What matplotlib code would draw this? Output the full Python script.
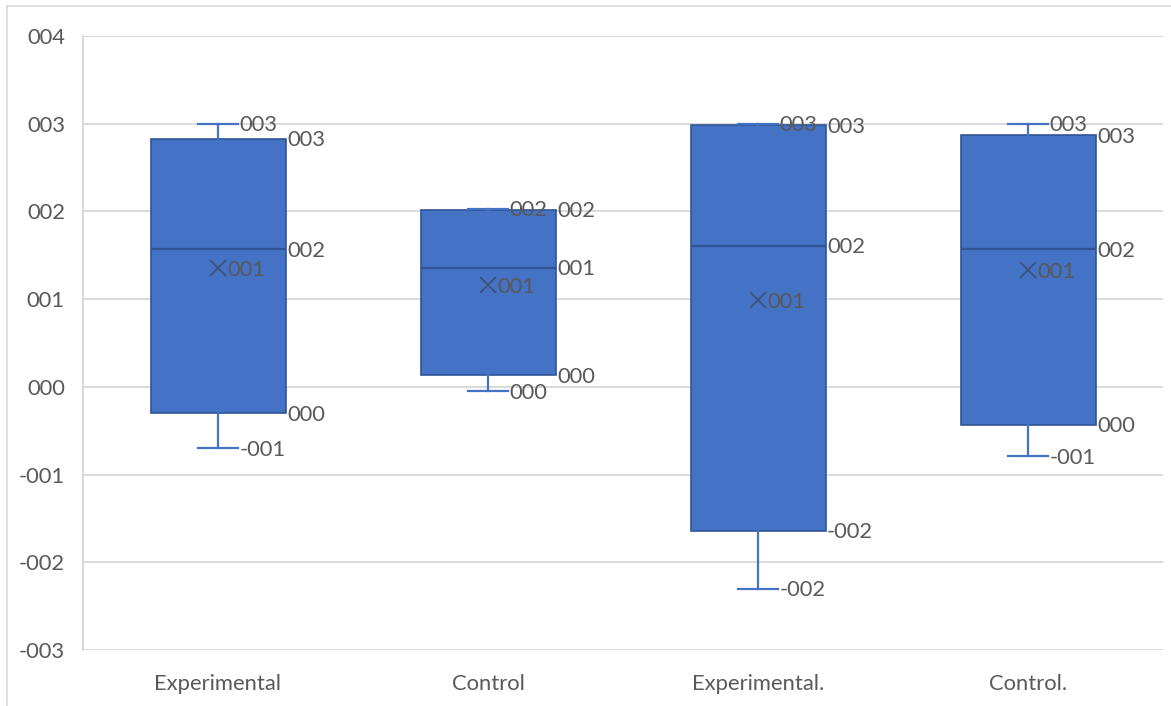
import matplotlib
matplotlib.use("Agg")
import matplotlib.pyplot as plt
from matplotlib.lines import Line2D

# === DATA ===
groups = ["Experimental", "Control", "Experimental.", "Control."]
whisker_low = [-0.70, -0.05, -2.30, -0.79]
q1 = [-0.30, 0.13, -1.64, -0.43]
median = [1.57, 1.36, 1.61, 1.57]
mean = [1.35, 1.16, 0.99, 1.33]
q3 = [2.83, 2.02, 2.98, 2.87]
whisker_high = [3.00, 2.03, 3.00, 3.00]
y_ticks = [-3, -2, -1, 0, 1, 2, 3, 4]
# ===================================

BLUE = "#4472C4"
DARK_BLUE = "#2F5597"
TEXT = "#595959"
GRID = "#D9D9D9"
FONT = "Lato"
FS = 15.8

plt.rcParams["font.family"] = [FONT, "DejaVu Sans"]


def fmt(v):
    r = int(round(v))
    sign = "-" if r < 0 else ""
    return f"{sign}{abs(r):03d}"


W, H = 1171, 706
fig = plt.figure(figsize=(W / 100, H / 100), dpi=100)
ax = fig.add_axes([83 / W, (H - 650) / H, 1080 / W, 614 / H])

stats = []
for i, name in enumerate(groups):
    stats.append({
        "label": name,
        "whislo": whisker_low[i],
        "q1": q1[i],
        "med": median[i],
        "mean": mean[i],
        "q3": q3[i],
        "whishi": whisker_high[i],
        "fliers": [],
    })

positions = list(range(len(groups)))
box_w = 0.5
cap_w = 0.148

ax.bxp(stats, positions=positions, widths=box_w, capwidths=cap_w,
       patch_artist=True, showmeans=True, shownotches=False,
       boxprops=dict(facecolor=BLUE, edgecolor=DARK_BLUE, linewidth=1.2),
       whiskerprops=dict(color=BLUE, linewidth=1.6),
       capprops=dict(color=BLUE, linewidth=1.6),
       medianprops=dict(color=DARK_BLUE, linewidth=1.6),
       meanprops=dict(marker="x", markeredgecolor="#3D5079", markersize=12,
                      markeredgewidth=1.2, linestyle="none"),
       zorder=3)

# data labels
for i, x in enumerate(positions):
    off = dict(textcoords="offset points", va="center", ha="left",
               fontsize=FS, color=TEXT, zorder=5)
    ax.annotate(fmt(whisker_high[i]), (x + cap_w / 2, whisker_high[i]),
                xytext=(1, -1.2), **off)
    ax.annotate(fmt(whisker_low[i]), (x + cap_w / 2, whisker_low[i]),
                xytext=(1, -1.2), **off)
    for v in (q3[i], median[i], q1[i]):
        ax.annotate(fmt(v), (x + box_w / 2, v), xytext=(1, -1.2), **off)
    ax.annotate(fmt(mean[i]), (x, mean[i]), xytext=(6.5, -1.2), **off)

ax.set_xlim(-0.5, len(groups) - 0.5)
ax.set_ylim(-3, 4)
ax.set_yticks(y_ticks)
ax.set_yticklabels([fmt(v) for v in y_ticks])
ax.set_xticks(positions)
ax.set_xticklabels(groups)

ax.tick_params(axis="y", length=0, pad=13, labelsize=FS, labelcolor=TEXT)
ax.tick_params(axis="x", length=0, pad=17, labelsize=FS, labelcolor=TEXT)

ax.grid(axis="y", color=GRID, linewidth=1.4, zorder=0)
ax.set_axisbelow(True)
for side in ("top", "right", "bottom"):
    ax.spines[side].set_visible(False)
ax.spines["left"].set_color(GRID)
ax.spines["left"].set_linewidth(1.4)

# chart area border (top and left edges visible in the screenshot)
fig.add_artist(Line2D([7 / W, 1], [1 - 6 / H, 1 - 6 / H], color=GRID,
                      linewidth=1.2, transform=fig.transFigure))
fig.add_artist(Line2D([7 / W, 7 / W], [0, 1 - 6 / H], color=GRID,
                      linewidth=1.2, transform=fig.transFigure))

fig.savefig("out.png", dpi=100)
